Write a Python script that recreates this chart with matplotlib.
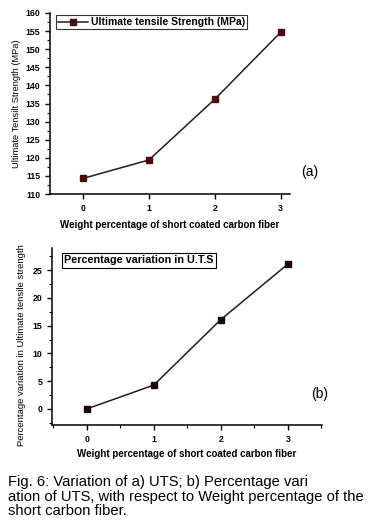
import matplotlib
matplotlib.use("Agg")
from matplotlib import pyplot as plt
from matplotlib.ticker import MultipleLocator

plt.rcParams['font.family'] = ['Liberation Sans', 'DejaVu Sans']

peso = [0, 1, 2, 3]
uts = [114.3, 119.4, 136.2, 154.7]
variacion = [0.0, 4.3, 16.1, 26.1]

color_linea = '#2a1a1a'
color_marca = '#4a0c0c'


def estilo_ejes(ax):
    ax.spines['top'].set_visible(False)
    ax.spines['right'].set_visible(False)
    ax.spines['left'].set_linewidth(1.1)
    ax.spines['bottom'].set_linewidth(1.1)
    ax.tick_params(which='major', direction='out', length=3.5, width=1, labelsize=6.3)
    ax.tick_params(which='minor', direction='out', length=2, width=0.8)
    for lab in ax.get_xticklabels() + ax.get_yticklabels():
        lab.set_fontweight('bold')


fig = plt.figure(figsize=(3.68, 5.27), dpi=100)

# grafica (a)
ax1 = fig.add_axes([50 / 368, 1 - 194 / 527, 240 / 368, 181 / 527])
ax1.plot(peso, uts, color=color_linea, lw=1.1, marker='s', ms=3.8,
         mfc=color_marca, mec=color_marca, label='Ultimate tensile Strength (MPa)')
ax1.set_xlim(-0.5, 3.14)
ax1.set_ylim(110, 160)
ax1.set_xticks(peso)
ax1.yaxis.set_major_locator(MultipleLocator(5))
ax1.yaxis.set_minor_locator(MultipleLocator(2.5))
estilo_ejes(ax1)
ax1.set_xlabel('Weight percentage of short coated carbon fiber', fontsize=7,
               fontweight='bold', labelpad=5)
ax1.set_ylabel('Ultimate Tensilt Strength (MPa)', fontsize=6.7, labelpad=3)
leg = ax1.legend(loc='upper left', frameon=True, fancybox=False,
                 prop={'size': 7.5, 'weight': 'bold'},
                 borderaxespad=0.2, borderpad=0.2, handlelength=2.9,
                 handletextpad=0.3, bbox_to_anchor=(0.015, 1.0))
leg.get_frame().set_edgecolor('black')
leg.get_frame().set_linewidth(0.8)

# grafica (b)
ax2 = fig.add_axes([52 / 368, 1 - 425 / 527, 270 / 368, 177 / 527])
ax2.plot(peso, variacion, color=color_linea, lw=1.1, marker='s', ms=3.8,
         mfc='#1a0808', mec='#1a0808')
ax2.set_xlim(-0.52, 3.51)
ax2.set_ylim(-2.9, 29)
ax2.set_xticks(peso)
ax2.xaxis.set_minor_locator(MultipleLocator(0.5))
ax2.yaxis.set_major_locator(MultipleLocator(5))
ax2.yaxis.set_minor_locator(MultipleLocator(2.5))
estilo_ejes(ax2)
ax2.set_xlabel('Weight percentage of short coated carbon fiber', fontsize=7,
               fontweight='bold', labelpad=4)
ax2.set_ylabel('Percentage variation in Ultimate tensile strength', fontsize=6.8)
ax2.yaxis.set_label_coords(-0.098, 0.45)
ax2.text(0.045, 0.93, 'Percentage variation in U.T.S', transform=ax2.transAxes,
         fontsize=7.8, fontweight='bold', ha='left', va='center',
         bbox=dict(boxstyle='square,pad=0.22', fc='white', ec='black', lw=0.8))

fig.text(310 / 368, 1 - 172 / 527, '(a)', fontsize=10, ha='center', va='center')
fig.text(320 / 368, 1 - 394 / 527, '(b)', fontsize=10, ha='center', va='center')

# pie de figura
fig.text(8 / 368, 1 - 475 / 527,
         'Fig. 6: Variation of a) UTS; b) Percentage vari\n'
         'ation of UTS, with respect to Weight percentage of the\n'
         'short carbon fiber.',
         fontsize=10.6, ha='left', va='top', linespacing=1.06)

fig.savefig('out.png', dpi=100)
